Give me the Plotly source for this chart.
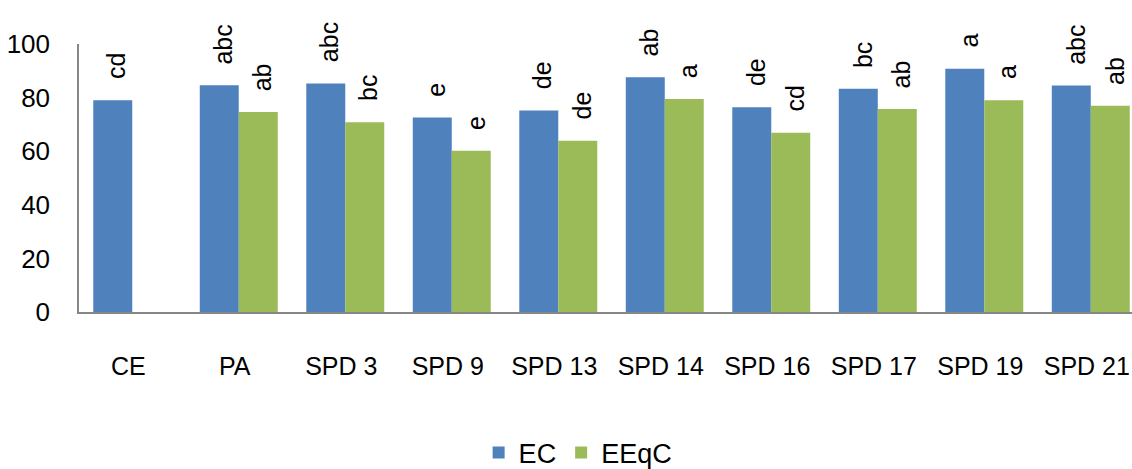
import plotly.graph_objects as go

categories = ["CE", "PA", "SPD 3", "SPD 9", "SPD 13", "SPD 14", "SPD 16", "SPD 17", "SPD 19", "SPD 21"]
ec_values = [79.0, 84.6, 85.3, 72.6, 75.2, 87.6, 76.4, 83.3, 90.8, 84.5]
eeqc_values = [None, 74.6, 70.8, 60.2, 63.9, 79.5, 66.9, 75.7, 79.0, 77.0]
ec_letters = ["cd", "abc", "abc", "e", "de", "ab", "de", "bc", "a", "abc"]
eeqc_letters = ["", "ab", "bc", "e", "de", "a", "cd", "ab", "a", "ab"]
y_ticks = [0, 20, 40, 60, 80, 100]

FONT = "Liberation Sans, Arial, sans-serif"
BLUE = "#4F81BD"
GREEN = "#9BBB59"

fig = go.Figure()
fig.add_trace(go.Bar(name="EC", x=list(range(len(categories))), y=ec_values,
                     marker=dict(color=BLUE, line=dict(width=0))))
fig.add_trace(go.Bar(name="EEqC", x=list(range(len(categories))), y=eeqc_values,
                     marker=dict(color=GREEN, line=dict(width=0))))

off = 0.183
annotations = []
for i, (v, t) in enumerate(zip(ec_values, ec_letters)):
    if v is not None and t:
        annotations.append(dict(x=i - off, y=v, text=t, textangle=-90, showarrow=False,
                                xanchor="center", yanchor="bottom", xshift=4, yshift=19,
                                font=dict(family=FONT, size=25, color="#000")))
for i, (v, t) in enumerate(zip(eeqc_values, eeqc_letters)):
    if v is not None and t:
        annotations.append(dict(x=i + off, y=v, text=t, textangle=-90, showarrow=False,
                                xanchor="center", yanchor="bottom", xshift=4, yshift=19,
                                font=dict(family=FONT, size=25, color="#000")))

fig.update_layout(
    width=1132, height=469,
    margin=dict(l=79, r=0, t=44, b=157, autoexpand=False),
    paper_bgcolor="white", plot_bgcolor="white",
    barmode="group", bargap=0.268, bargroupgap=0,
    font=dict(family=FONT, color="#000"),
    showlegend=True,
    legend=dict(orientation="h", x=0.474, xanchor="center", y=-0.526, yanchor="middle",
                font=dict(family=FONT, size=27), itemwidth=30, traceorder="normal"),
    annotations=annotations,
    xaxis=dict(
        tickmode="array", tickvals=list(range(len(categories))), ticktext=categories,
        range=[-0.5, 9.387], showline=True, linecolor="#868686", linewidth=1.5,
        showgrid=False, ticks="", tickfont=dict(family=FONT, size=25),
        ticklabelstandoff=31, ticklabelshift=-4, ticklabeloverflow="allow",
        zeroline=False, automargin=False,
    ),
    yaxis=dict(
        range=[0, 100], tickvals=y_ticks, showline=True, linecolor="#868686", linewidth=1.5,
        showgrid=False, ticks="", tickfont=dict(family=FONT, size=26),
        ticklabelstandoff=22, zeroline=False, automargin=False,
    ),
)

fig.write_html(
    "out.html",
    config={"displayModeBar": False},
    post_script="document.body.style.margin='0';document.body.style.overflow='hidden';",
)
